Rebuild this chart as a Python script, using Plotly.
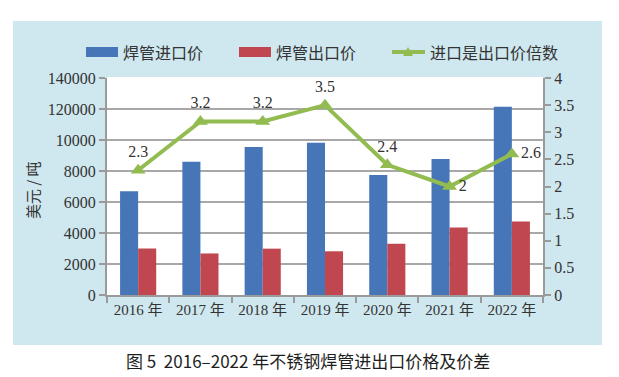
import plotly.graph_objects as go

years = ["2016 年", "2017 年", "2018 年", "2019 年", "2020 年", "2021 年", "2022 年"]
import_price = [6700, 8600, 9550, 9830, 7750, 8780, 12150]
export_price = [3000, 2680, 2990, 2820, 3300, 4350, 4750]
ratio = [2.3, 3.2, 3.2, 3.5, 2.4, 2.0, 2.6]
ratio_text = ["2.3", "3.2", "3.2", "3.5", "2.4", "2", "2.6"]
left_tickvals = [0, 2000, 4000, 6000, 8000, 10000, 12000, 14000]
left_ticktext = ["0", "2000", "4000", "6000", "8000", "10000", "120000", "140000"]
right_tickvals = [0, 0.5, 1, 1.5, 2, 2.5, 3, 3.5, 4]
legend_names = ["焊管进口价", "焊管出口价", "进口是出口价倍数"]
caption = "图 5  2016–2022 年不锈钢焊管进出口价格及价差"
ytitle = "美元 / 吨"

BLUE = "#4676b8"
RED = "#c0474f"
GREEN = "#92bb50"
PANEL = "#cfe7ee"
AXIS = "#9a9a9a"
SERIF = "Liberation Serif, Noto Sans CJK SC, serif"
CJK = "Noto Sans CJK SC, sans-serif"

W, H = 619, 377
L, R, T, B = 107, 76, 78, 82
pw, ph = W - L - R, H - T - B

def px(x):
    return (x - L) / pw

def py(y):
    return (H - B - y) / ph

fig = go.Figure()
fig.add_trace(go.Bar(x=years, y=import_price, name=legend_names[0],
                     marker=dict(color=BLUE, line=dict(width=0)), showlegend=False))
fig.add_trace(go.Bar(x=years, y=export_price, name=legend_names[1],
                     marker=dict(color=RED, line=dict(width=0)), showlegend=False))
fig.add_trace(go.Scatter(x=years, y=ratio, name=legend_names[2], yaxis="y2",
                         mode="lines+markers+text", text=ratio_text,
                         textposition=["top center"] * 5 + ["middle right", "middle right"],
                         textfont=dict(family=SERIF, size=16, color="#333"),
                         line=dict(color=GREEN, width=4),
                         marker=dict(symbol="triangle-up", size=13, color=GREEN),
                         showlegend=False, cliponaxis=False))

shapes = [
    dict(type="rect", xref="paper", yref="paper", x0=px(13), x1=px(602), y0=py(345), y1=py(21),
         fillcolor=PANEL, line=dict(width=0), layer="below"),
    dict(type="rect", xref="paper", yref="paper", x0=0, x1=1, y0=0, y1=py(77),
         fillcolor="white", line=dict(width=0), layer="below"),
    # legend symbols
    dict(type="rect", xref="paper", yref="paper", x0=px(86), x1=px(118), y0=py(57), y1=py(47),
         fillcolor=BLUE, line=dict(width=0)),
    dict(type="rect", xref="paper", yref="paper", x0=px(239), x1=px(271), y0=py(57), y1=py(47),
         fillcolor=RED, line=dict(width=0)),
    dict(type="line", xref="paper", yref="paper", x0=px(392), x1=px(425), y0=py(52), y1=py(52),
         line=dict(color=GREEN, width=4)),
    dict(type="path", xref="paper", yref="paper",
         path=f"M {px(403)} {py(56)} L {px(413)} {py(56)} L {px(408)} {py(47)} Z",
         fillcolor=GREEN, line=dict(width=0)),
]

annotations = [
    dict(text=legend_names[0], xref="paper", yref="paper", x=px(121), y=py(52),
         xanchor="left", yanchor="middle", showarrow=False,
         font=dict(family=CJK, size=16, color="#333")),
    dict(text=legend_names[1], xref="paper", yref="paper", x=px(274), y=py(52),
         xanchor="left", yanchor="middle", showarrow=False,
         font=dict(family=CJK, size=16, color="#333")),
    dict(text=legend_names[2], xref="paper", yref="paper", x=px(428), y=py(52),
         xanchor="left", yanchor="middle", showarrow=False,
         font=dict(family=CJK, size=16, color="#333")),
    dict(text=ytitle, xref="paper", yref="paper", x=px(32), y=py(190),
         xanchor="center", yanchor="middle", textangle=-90, showarrow=False,
         font=dict(family=CJK, size=15, color="#333")),
    dict(text=caption, xref="paper", yref="paper", x=px(308), y=py(360),
         xanchor="center", yanchor="middle", showarrow=False,
         font=dict(family=CJK, size=17, color="#1e1e1e")),
]

fig.update_layout(
    width=W, height=H,
    margin=dict(l=L, r=R, t=T, b=B, pad=0),
    paper_bgcolor="white", plot_bgcolor="white",
    barmode="group", bargap=0.42, bargroupgap=0,
    showlegend=False,
    shapes=shapes, annotations=annotations,
    xaxis=dict(showgrid=False, showline=True, linecolor=AXIS, linewidth=2,
               ticks="outside", tickson="boundaries", ticklen=6, tickcolor=AXIS, tickwidth=1.5,
               tickfont=dict(family=SERIF, size=15, color="#333"), fixedrange=True),
    yaxis=dict(range=[0, 14000], tickvals=left_tickvals, ticktext=left_ticktext,
               showgrid=True, gridcolor="#a8a8a8", gridwidth=1.5,
               showline=True, linecolor=AXIS, linewidth=2, zeroline=False,
               ticks="outside", ticklen=6, tickcolor=AXIS, tickwidth=1.5,
               tickfont=dict(family=SERIF, size=16, color="#333")),
    yaxis2=dict(range=[0, 4], tickvals=right_tickvals, overlaying="y", side="right",
                showgrid=False, showline=True, linecolor=AXIS, linewidth=2, zeroline=False,
                ticks="outside", ticklen=6, tickcolor=AXIS, tickwidth=1.5,
                tickfont=dict(family=SERIF, size=16, color="#333")),
)

fig.write_html("out.html", config={"displayModeBar": False},
               post_script="document.body.style.margin='0px';document.body.style.overflow='hidden';")
